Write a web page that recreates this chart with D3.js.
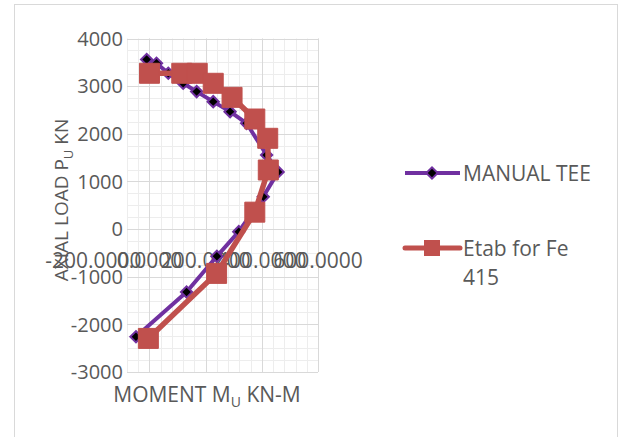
<!DOCTYPE html>
<html>
<head>
<meta charset="utf-8">
<script src="https://cdn.jsdelivr.net/npm/d3@7"></script>
<style>
  html, body { margin: 0; padding: 0; background: #fff; }
  svg { display: block; }
  text { font-family: "Open Sans", "Liberation Sans", sans-serif; fill: #595959; }
</style>
</head>
<body>
<svg id="chart" width="621" height="437"></svg>
<script>
// ---- data ----
const manualMoment = [-10, 25, 67, 120, 168, 227, 287, 346, 417, 458, 405, 318, 240, 132, -48];
const manualLoad   = [3560, 3480, 3270, 3060, 2885, 2675, 2465, 2220, 1555, 1200, 680, -55, -570, -1320, -2260];
const etabMoment = [0, 115, 170, 227, 294, 375, 421, 423, 375, 239, -4];
const etabLoad   = [3270, 3270, 3270, 3060, 2765, 2310, 1905, 1240, 355, -930, -2295];
const xTickValues = [-200, 0, 200, 400, 600];
const xTickLabels = ["-200.0000", "0.0000", "200.0000", "400.0000", "600.0000"];
const yTickValues = [-3000, -2000, -1000, 0, 1000, 2000, 3000, 4000];
const seriesNames = ["MANUAL TEE", "Etab for Fe 415"];

// ---- layout ----
const svg = d3.select("#chart");
const W = 621, H = 437;
const plot = { left: 127, right: 318, top: 38.5, bottom: 372 };
const x = d3.scaleLinear().domain([-80, 600]).range([plot.left, plot.right]);
const y = d3.scaleLinear().domain([-3000, 4000]).range([plot.bottom, plot.top]);

const purple = "#7030A0", red = "#C0504D";

// chart border
svg.append("rect").attr("x", 14.5).attr("y", 4.5).attr("width", 603).attr("height", 440)
  .attr("fill", "none").attr("stroke", "#d9d9d9").attr("stroke-width", 1);

// minor gridlines
const g = svg.append("g");
g.selectAll(".vmin").data(d3.range(-80, 601, 40)).join("line")
  .attr("x1", d => Math.round(x(d)) + 0.5).attr("x2", d => Math.round(x(d)) + 0.5)
  .attr("y1", plot.top).attr("y2", plot.bottom)
  .attr("stroke", "#ededed").attr("stroke-width", 1);
g.selectAll(".hmin").data(d3.range(-3000, 4001, 250)).join("line")
  .attr("y1", d => Math.round(y(d)) + 0.5).attr("y2", d => Math.round(y(d)) + 0.5)
  .attr("x1", plot.left).attr("x2", plot.right)
  .attr("stroke", "#ededed").attr("stroke-width", 1);
// major gridlines
g.selectAll(".vmaj").data(xTickValues.filter(v => v >= -80)).join("line")
  .attr("x1", d => Math.round(x(d)) + 0.5).attr("x2", d => Math.round(x(d)) + 0.5)
  .attr("y1", plot.top).attr("y2", plot.bottom)
  .attr("stroke", "#d9d9d9").attr("stroke-width", 1);
g.selectAll(".hmaj").data(yTickValues).join("line")
  .attr("y1", d => Math.round(y(d)) + 0.5).attr("y2", d => Math.round(y(d)) + 0.5)
  .attr("x1", plot.left).attr("x2", plot.right)
  .attr("stroke", "#d9d9d9").attr("stroke-width", 1);

// y tick labels
svg.append("g").selectAll("text").data(yTickValues).join("text")
  .attr("x", plot.left - 4).attr("y", d => y(d))
  .attr("dy", "0.36em").attr("text-anchor", "end")
  .attr("font-size", 20).text(d => d);

// x tick labels (overlapping, as in the reference)
svg.append("g").selectAll("text").data(xTickValues).join("text")
  .attr("x", d => x(d)).attr("y", 268)
  .attr("text-anchor", "middle").attr("font-size", 21)
  .text((d, i) => xTickLabels[i]);

// series
const manual = manualMoment.map((m, i) => [m, manualLoad[i]]);
const etab = etabMoment.map((m, i) => [m, etabLoad[i]]);
const line = d3.line().x(d => x(d[0])).y(d => y(d[1]));

svg.append("path").datum(manual).attr("d", line)
  .attr("fill", "none").attr("stroke", purple).attr("stroke-width", 4).attr("stroke-linejoin", "round");
const diamond = d3.symbol().type(d3.symbolSquare).size(64);
svg.append("g").selectAll("path").data(manual).join("path")
  .attr("d", diamond)
  .attr("transform", d => `translate(${x(d[0])},${y(d[1])}) rotate(45)`)
  .attr("fill", "#000").attr("stroke", purple).attr("stroke-width", 2);

svg.append("path").datum(etab).attr("d", line)
  .attr("fill", "none").attr("stroke", red).attr("stroke-width", 5.5).attr("stroke-linejoin", "round");
const square = d3.symbol().type(d3.symbolSquare).size(400);
svg.append("g").selectAll("path").data(etab).join("path")
  .attr("d", square)
  .attr("transform", d => `translate(${x(d[0])},${y(d[1])})`)
  .attr("fill", red).attr("stroke", red).attr("stroke-width", 1);

// axis titles
const xt = svg.append("text").attr("x", 207).attr("y", 402).attr("text-anchor", "middle").attr("font-size", 21);
xt.append("tspan").text("MOMENT M");
xt.append("tspan").attr("font-size", 14).attr("dy", 5).text("U");
xt.append("tspan").attr("dy", -5).text(" KN-M");

const yt = svg.append("text").attr("transform", "translate(68,200) rotate(-90)")
  .attr("text-anchor", "middle").attr("font-size", 19);
yt.append("tspan").text("AXIAL LOAD P");
yt.append("tspan").attr("font-size", 13).attr("dy", 5).text("U");
yt.append("tspan").attr("dy", -5).text(" KN");

// legend
const lg = svg.append("g");
lg.append("line").attr("x1", 405).attr("x2", 460).attr("y1", 173).attr("y2", 173)
  .attr("stroke", purple).attr("stroke-width", 4);
lg.append("path").attr("d", diamond).attr("transform", "translate(432,173) rotate(45)")
  .attr("fill", "#000").attr("stroke", purple).attr("stroke-width", 2);
lg.append("text").attr("x", 463).attr("y", 173).attr("dy", "0.36em").attr("font-size", 21).text(seriesNames[0]);

lg.append("line").attr("x1", 405).attr("x2", 460).attr("y1", 248).attr("y2", 248)
  .attr("stroke", red).attr("stroke-width", 5).attr("stroke-linecap", "round");
lg.append("rect").attr("x", 424).attr("y", 240).attr("width", 16).attr("height", 16).attr("fill", red);
const lt = lg.append("text").attr("x", 463).attr("y", 248).attr("dy", "0.36em").attr("font-size", 21);
lt.append("tspan").attr("x", 463).text("Etab for Fe");
lt.append("tspan").attr("x", 463).attr("dy", 29).text("415");
</script>
</body>
</html>
